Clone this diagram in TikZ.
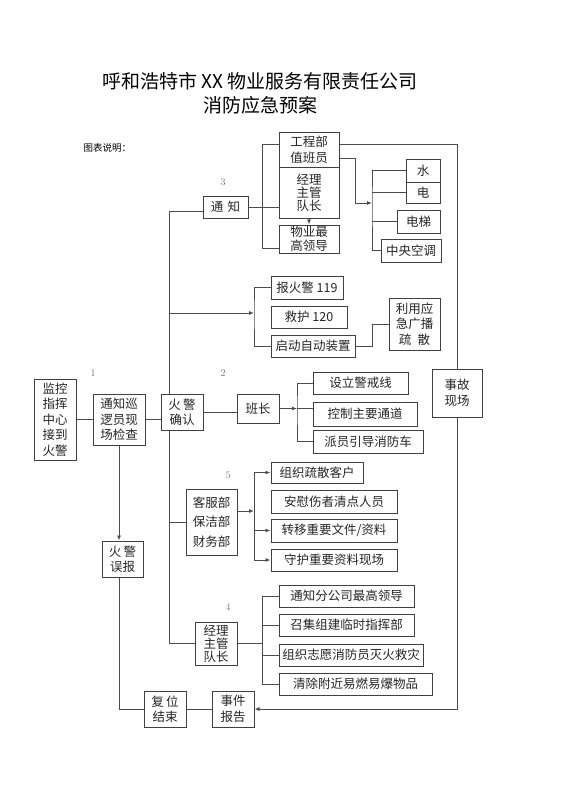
\documentclass[tikz,border=0pt]{standalone}
\usepackage{fontspec}
\newfontfamily\cjk{Noto Sans CJK SC}
\usetikzlibrary{arrows.meta}

\begin{document}
\begin{tikzpicture}[x=1pt,y=-1pt,
  conn/.style={draw=black!70, line width=0.9pt},
  >={Latex[length=5pt,width=4pt]},
  box/.style 2 args={draw=black!75, line width=1pt, fill=white, inner sep=0pt, align=center,
    minimum width=#1pt, minimum height=#2pt, text=black!85,
    font=\cjk\fontsize{12.5}{15.5}\selectfont},
  num/.style={font=\fontsize{10}{12}\selectfont, text=black!55}]
		\useasboundingbox (0,0) rectangle (560,792);
		
		% title
		\node[font=\cjk\fontsize{19}{21}\selectfont] (title1) at (260,81) {呼和浩特市 XX 物业服务有限责任公司};
		\node[font=\cjk\fontsize{19}{21}\selectfont] (title2) at (260.5,105) {消防应急预案};
		\node[anchor=west, font=\cjk\fontsize{9.5}{11}\selectfont] (legend) at (80,148) {图表说明：};
		
		% left column
		\node[box={42}{81}] (jiankong) at (55,419.5) {监控\\指挥\\中心\\接到\\火警};
		\node[box={52}{51}] (xunluo) at (119,419.5) {通知巡\\逻员现\\场检查};
		\node[box={42}{36}] (queren) at (182,412) {火\,警\\确认};
		\node[box={41}{36}] (wubao) at (122.5,559) {火\,警\\误报};
		\node[box={42}{36}] (fuwei) at (165,709) {复\,位\\结束};
		\node[box={42}{36}] (shijian) at (233,709) {事件\\报告};
		
		% 3
		\node[box={45}{22}] (tongzhi) at (225.5,207) {通\,\,知};
		\node[box={60}{35}] (gongcheng) at (309,149.5) {工程部\\值班员};
		\node[box={60}{51}, font=\cjk\fontsize{12.5}{13}\selectfont] (jingli) at (309,192.5) {经理\\主管\\队长};
		\node[box={60}{28}, font=\cjk\fontsize{12.5}{13.5}\selectfont] (wuye) at (309,239) {物业最\\高领导};
		\node[box={34}{23}] (shui) at (423,170.5) {水};
		\node[box={34}{21}] (dian) at (423,192.5) {电};
		\node[box={43}{23}] (dianti) at (418.5,221.5) {电梯};
		\node[box={60}{23}] (kongtiao) at (411,250.5) {中央空调};
		
		% 119
		\node[box={72}{23}] (bao119) at (307,287.5) {报火警 119};
		\node[box={76}{22}] (jiuhu) at (309,317) {救护 120};
		\node[box={84}{22}] (qidong) at (313,346) {启动自动装置};
		\node[box={51}{52}] (guangbo) at (414.5,324) {利用应\\急广播\\疏\,\,\,散};
		
		% 2
		\node[box={42}{29}] (banzhang) at (258,408.5) {班长};
		\node[box={95}{22}] (jingjie) at (360.5,383) {设立警戒线};
		\node[box={104}{24}] (kongzhi) at (365,414) {控制主要通道};
		\node[box={110}{23}] (paiyuan) at (368,441.5) {派员引导消防车};
		\node[box={50}{48}] (shigu) at (457,393) {事故\\现场};
		
		% 5
		\node[box={51}{66}, font=\cjk\fontsize{12.5}{19.5}\selectfont] (kefu) at (211.5,522) {客服部\\保洁部\\财务部};
		\node[box={92}{21}] (shusan) at (317,472.5) {组织疏散客户};
		\node[box={126}{23}] (anwei) at (334,501.5) {安慰伤者清点人员};
		\node[box={126}{23}] (zhuanyi) at (334,530.5) {转移重要文件/资料};
		\node[box={126}{22}] (shouhu) at (334,560) {守护重要资料现场};
		
		% 4
		\node[box={42}{43}, font=\cjk\fontsize{12.5}{13}\selectfont] (jingli2) at (216,643.5) {经理\\主管\\队长};
		\node[box={135}{22}] (fengongsi) at (346.5,596) {通知分公司最高领导};
		\node[box={135}{22}] (zhaoji) at (346.5,625) {召集组建临时指挥部};
		\node[box={144}{22}] (zhiyuan) at (351,655) {组织志愿消防员灭火救灾};
		\node[box={153}{22}] (qingchu) at (355.5,684) {清除附近易燃易爆物品};
		
		% step numbers
		\node[num] (n1) at (93,373) {1};
		\node[num] (n2) at (223,373) {2};
		\node[num] (n3) at (223,182) {3};
		\node[num] (n4) at (228,607) {4};
		\node[num] (n5) at (228,475) {5};
		
		% corners
		\coordinate (m3) at (169,211);
		\coordinate (b1) at (297,408.5);
		\coordinate (b2) at (254,313);
		\coordinate (b3) at (262,248);
		\coordinate (b4) at (262,636);
		\coordinate (b5) at (254,511);
		\coordinate (d1) at (372,203);
		\coordinate (j3) at (355,203);
		\coordinate (g1) at (372,324);
		
		% first steps
		\draw[conn] (jiankong) -- (xunluo);
		\draw[conn] (xunluo.east) -- (xunluo.east -| queren.west);
		\draw[conn] (queren.east) -- (queren.east -| banzhang.west);
		\draw[conn,->] (banzhang.east) -- (b1);
		\draw[conn] (jingjie.west) -| (b1) |- (paiyuan.west);
		\draw[conn] (b1) -- (b1 -| kongzhi.west);
		
		% main line
		\draw[conn] (tongzhi.west |- m3) -- (m3) -- (m3 |- queren.north);
		\draw[conn] (m3 |- queren.south) |- (jingli2.west);
		\draw[conn,->] (m3 |- b2) -- (b2);
		\draw[conn] (bao119.west) -| (b2) |- (qidong.west);
		\draw[conn] (qidong.east) -| (g1) -- (guangbo.west);
		\draw[conn] (m3 |- kefu.west) -- (kefu.west);
		
		% notify
		\draw[conn] (tongzhi.east) -- (tongzhi.east -| jingli.west);
		\draw[conn] (gongcheng.170) -| (b3) -- (b3 -| wuye.west);
		\draw[conn,->] (jingli.south) -- (wuye.north);
		\draw[conn] (gongcheng.10) -| (shigu.north);
		\draw[conn] (gongcheng.-16) -| (j3);
		\draw[conn,->] (j3) -- (d1);
		\draw[conn] (shui.west) -| (d1) |- (kongtiao.west);
		\draw[conn] (d1 |- dian.west) -- (dian.west);
		\draw[conn] (d1 |- dianti.west) -- (dianti.west);
		
		% service depts
		\draw[conn,->] (kefu.east |- b5) -- (b5);
		\draw[conn,->] (b5) |- (shusan.west);
		\draw[conn,->] (b5) |- (shouhu.west);
		\draw[conn,->] (b5 |- zhuanyi.west) -- (zhuanyi.west);
		
		% managers
		\draw[conn] (jingli2.east) -- (b4 |- jingli2.east);
		\draw[conn] (fengongsi.west) -| (b4 |- qingchu.west) -- (qingchu.west);
		\draw[conn] (b4 |- zhaoji.west) -- (zhaoji.west);
		\draw[conn] (b4 |- zhiyuan.west) -- (zhiyuan.west);
		
		% closing
		\draw[conn,->] (xunluo.south) -- (xunluo.south |- wubao.north);
		\draw[conn] (xunluo.south |- wubao.south) |- (fuwei.west);
		\draw[conn] (fuwei) -- (shijian);
		\draw[conn,->] (shigu.south) |- (shijian.east);
\end{tikzpicture}
\end{document}
